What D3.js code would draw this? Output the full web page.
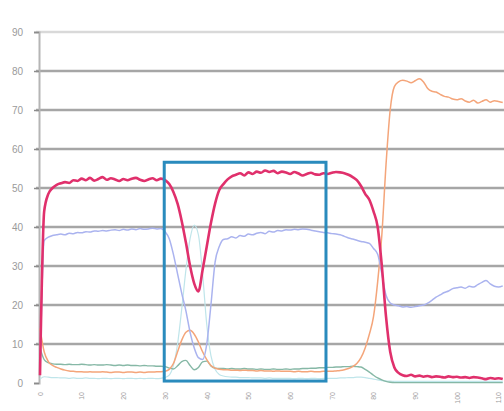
<!DOCTYPE html>
<html>
<head>
<meta charset="utf-8">
<script src="https://cdn.jsdelivr.net/npm/d3@7"></script>
<style>
  html, body { margin: 0; padding: 0; background: #fff; }
  svg { display: block; font-family: "DejaVu Sans", Arial, sans-serif; }
</style>
</head>
<body>
<svg id="chart" width="504" height="411"></svg>
<script>
// Sample positions along the run (one reading per step)
const samples = d3.range(0, 112);

// Y axis ticks and x tick labels
const yTicks = [0, 10, 20, 30, 40, 50, 60, 70, 80, 90];
const xTicks = [0, 10, 20, 30, 40, 50, 60, 70, 80, 90, 100, 110];
const xTickLabels = ["0", "10", "20", "30", "40", "50", "60", "70", "80", "90", "100", "110"];

// Series readings (percent)
const magenta = [
  2, 44, 48.5, 50, 50.8, 51.2, 51.5, 51.3, 52.0, 51.8,
  52.4, 52.0, 52.6, 51.9, 52.3, 52.8, 52.1, 52.5, 52.2, 51.8,
  52.3, 52.0, 52.4, 52.6, 52.1, 51.8, 52.2, 52.5, 52.0, 52.4,
  52, 51, 49, 46, 41.5, 36, 30, 25.5, 23.5, 29,
  35, 41, 46, 49.5, 51, 52.2, 53, 53.4, 53.8, 53.2,
  54.0, 53.6, 54.2, 53.9, 54.5, 54.1, 54.4, 53.8, 54.2, 54.0,
  53.6, 54.1, 53.7, 53.2, 53.6, 53.9, 53.5, 53.4, 53.8, 53.6,
  53.9, 54.1, 54, 53.8, 53.4, 52.8, 52, 50.5, 48.5, 47,
  44, 40, 30, 17, 8, 4, 2.6, 2.0, 1.8, 2.1,
  1.7, 1.9, 1.6, 1.8, 1.5, 1.7, 1.6, 1.4, 1.7, 1.5,
  1.6, 1.4, 1.5, 1.3, 1.5, 1.4, 1.2, 1.0, 1.3, 1.1,
  1.2, 1.0
];
const lavender = [
  2, 36.5, 37.4, 37.8, 38.0, 38.2, 38.0, 38.4, 38.3, 38.6,
  38.5, 38.8, 38.7, 39.0, 38.9, 39.1, 39.0, 39.2, 39.3, 39.1,
  39.4, 39.2, 39.5, 39.3, 39.6, 39.4, 39.5, 39.7, 39.5, 39.6,
  38.8, 37, 33, 28, 23, 18.5, 13, 9, 6.5, 6,
  10, 20, 31, 35, 36.8, 37, 37.5, 37.2, 37.8, 37.6,
  38.2, 38.0, 38.4, 38.6, 38.3, 38.9, 38.7, 39.1, 39.0, 39.3,
  39.2, 39.4, 39.3, 39.5, 39.4, 39.2, 39.0, 38.8, 38.6, 38.5,
  38.3, 38.2, 38.0, 37.6, 37.2, 36.9, 36.6, 36.3, 36.1, 35.8,
  34.5, 33, 28, 22.5, 20.5, 20, 19.8, 19.5, 19.6, 19.4,
  19.6, 19.8, 20, 20.5, 21.2, 22, 22.6, 23.2, 23.6, 24.2,
  24.4, 24.6, 24.3, 24.8, 24.6, 25.2, 25.8, 26.3, 25.4, 24.8,
  24.6, 24.9
];
const aqua = [
  1, 1.6, 1.5, 1.4, 1.4, 1.3, 1.3, 1.2, 1.3, 1.2,
  1.2, 1.3, 1.2, 1.2, 1.1, 1.2, 1.2, 1.1, 1.2, 1.2,
  1.1, 1.2, 1.2, 1.1, 1.2, 1.1, 1.2, 1.2, 1.1, 1.2,
  1.4, 2, 4.5, 10, 19, 29, 37, 40.5, 38, 28,
  15, 7, 3.5, 2.2, 1.8, 1.6, 1.5, 1.5, 1.4, 1.4,
  1.4, 1.3, 1.3, 1.3, 1.2, 1.3, 1.2, 1.2, 1.2, 1.2,
  1.2, 1.1, 1.2, 1.2, 1.1, 1.2, 1.2, 1.1, 1.2, 1.2,
  1.2, 1.2, 1.3, 1.3, 1.4, 1.4, 1.5, 1.5, 1.4, 1.2,
  1.0, 0.8, 0.6, 0.5, 0.5, 0.4, 0.4, 0.4, 0.4, 0.4,
  0.4, 0.4, 0.4, 0.4, 0.4, 0.4, 0.4, 0.4, 0.4, 0.4,
  0.4, 0.4, 0.4, 0.4, 0.4, 0.4, 0.4, 0.4, 0.4, 0.4,
  0.4, 0.4
];
const orange = [
  14, 8, 5.5, 4.5, 4.0, 3.6, 3.3, 3.1, 3.0, 2.9,
  2.9, 2.8, 2.9, 2.8, 2.8, 2.9, 2.8, 2.7, 2.8, 2.8,
  2.7, 2.8, 2.8, 2.7, 2.8, 2.7, 2.8, 2.8, 2.9, 2.9,
  3.0, 3.5, 5, 8, 11, 13, 13.5, 12.5, 10.5, 8,
  6, 4.5, 3.8, 3.5, 3.4, 3.4, 3.3, 3.3, 3.2, 3.3,
  3.2, 3.2, 3.1, 3.2, 3.1, 3.1, 3.0, 3.1, 3.0, 3.0,
  3.0, 2.9, 3.0, 2.9, 2.9, 3.0, 2.9, 2.9, 3.0, 3.0,
  3.0, 3.1, 3.2, 3.4, 3.7, 4.2, 5.0, 6.5, 9, 12.5,
  17, 26, 38, 56, 70, 76, 77.2, 77.6, 77.4, 77.0,
  77.5, 78.0, 77.2, 75.5, 74.8, 74.6, 74.0, 73.5, 73.3, 72.8,
  72.6, 72.9, 72.3, 72.0, 72.5, 71.8, 72.2, 72.6, 72.0, 72.4,
  72.2, 71.9
];
const sage = [
  9, 6, 5.2, 4.9, 4.8, 4.8, 4.7, 4.8, 4.7, 4.7,
  4.8, 4.7, 4.6, 4.7, 4.6, 4.6, 4.7, 4.6, 4.5, 4.6,
  4.5, 4.6, 4.5, 4.5, 4.4, 4.5, 4.4, 4.4, 4.3, 4.3,
  4.2, 3.8, 3.6, 4.4, 5.5, 5.8, 4.5, 3.4, 4.0, 5.4,
  5.6, 4.4, 3.8, 3.7, 3.7, 3.6, 3.7, 3.6, 3.6, 3.7,
  3.6, 3.6, 3.5, 3.6, 3.5, 3.5, 3.6, 3.5, 3.5, 3.6,
  3.5, 3.6, 3.6, 3.7, 3.7, 3.8, 3.8, 3.9, 3.9, 4.0,
  4.0, 4.1, 4.1, 4.2, 4.2, 4.3, 4.2, 4.1, 3.5, 2.8,
  2.0, 1.3, 0.8, 0.4, 0.2, 0.1, 0.1, 0.1, 0.1, 0.1,
  0.1, 0.1, 0.1, 0.1, 0.1, 0.1, 0.1, 0.1, 0.1, 0.1,
  0.1, 0.1, 0.1, 0.1, 0.1, 0.1, 0.1, 0.1, 0.1, 0.1,
  0.1, 0.1
];

// Highlighted window: sample range and value range
const windowSamples = [29.8, 68.6];
const windowValues = [0.5, 56.6];

const svg = d3.select("#chart");
const x = d3.scaleLinear().domain([0, 111.3]).range([40, 504]);
const y = d3.scaleLinear().domain([0, 90]).range([383, 32]);

// Horizontal gridlines
svg.append("g").selectAll("line")
  .data(yTicks.filter(d => d > 0))
  .join("line")
  .attr("x1", 36).attr("x2", 504)
  .attr("y1", d => y(d)).attr("y2", d => y(d))
  .attr("stroke", d => d === 90 ? "#d9d9d9" : "#a6a6a6")
  .attr("stroke-width", 2.4);

// Y axis
const yAxis = d3.axisLeft(y).tickValues(yTicks).tickSize(5).tickPadding(11);
const gy = svg.append("g").attr("transform", "translate(39,0)").call(yAxis);
gy.select(".domain").attr("stroke", "#b5b5b5").attr("stroke-width", 2);
gy.selectAll(".tick line").attr("stroke", "#8c8c8c").attr("stroke-width", 1.5);
gy.selectAll(".tick text").attr("fill", "#9a9a9a").attr("font-size", 10);

// X axis labels (rotated)
const xAxis = d3.axisBottom(x).tickValues(xTicks).tickFormat((d, i) => xTickLabels[i]).tickSize(0).tickPadding(0);
const gx = svg.append("g").attr("transform", "translate(0,390)").call(xAxis);
gx.select(".domain").remove();
gx.selectAll(".tick text")
  .attr("fill", "#a0a0a0").attr("font-size", 7)
  .attr("transform", "rotate(-90)")
  .attr("text-anchor", "end")
  .attr("dx", "-2").attr("dy", "0.32em")
  .attr("x", 0).attr("y", 0);

// Lines
const line = vals => d3.line()
  .x((d, i) => x(samples[i]))
  .y(d => y(d))
  .curve(d3.curveMonotoneX)(vals);

const series = [
  { vals: aqua, color: "#bfe5ea", w: 1.2 },
  { vals: sage, color: "#86b8a6", w: 1.4 },
  { vals: orange, color: "#f4a57a", w: 1.5 },
  { vals: lavender, color: "#aab3ef", w: 1.5 },
  { vals: magenta, color: "#e0306c", w: 2.6 }
];
svg.append("g").selectAll("path")
  .data(series)
  .join("path")
  .attr("d", d => line(d.vals))
  .attr("fill", "none")
  .attr("stroke", d => d.color)
  .attr("stroke-width", d => d.w)
  .attr("stroke-linejoin", "round");

// Highlight box
svg.append("rect")
  .attr("x", x(windowSamples[0]))
  .attr("y", y(windowValues[1]))
  .attr("width", x(windowSamples[1]) - x(windowSamples[0]))
  .attr("height", y(windowValues[0]) - y(windowValues[1]))
  .attr("fill", "none")
  .attr("stroke", "#2a8bbd")
  .attr("stroke-width", 3);
</script>
</body>
</html>
